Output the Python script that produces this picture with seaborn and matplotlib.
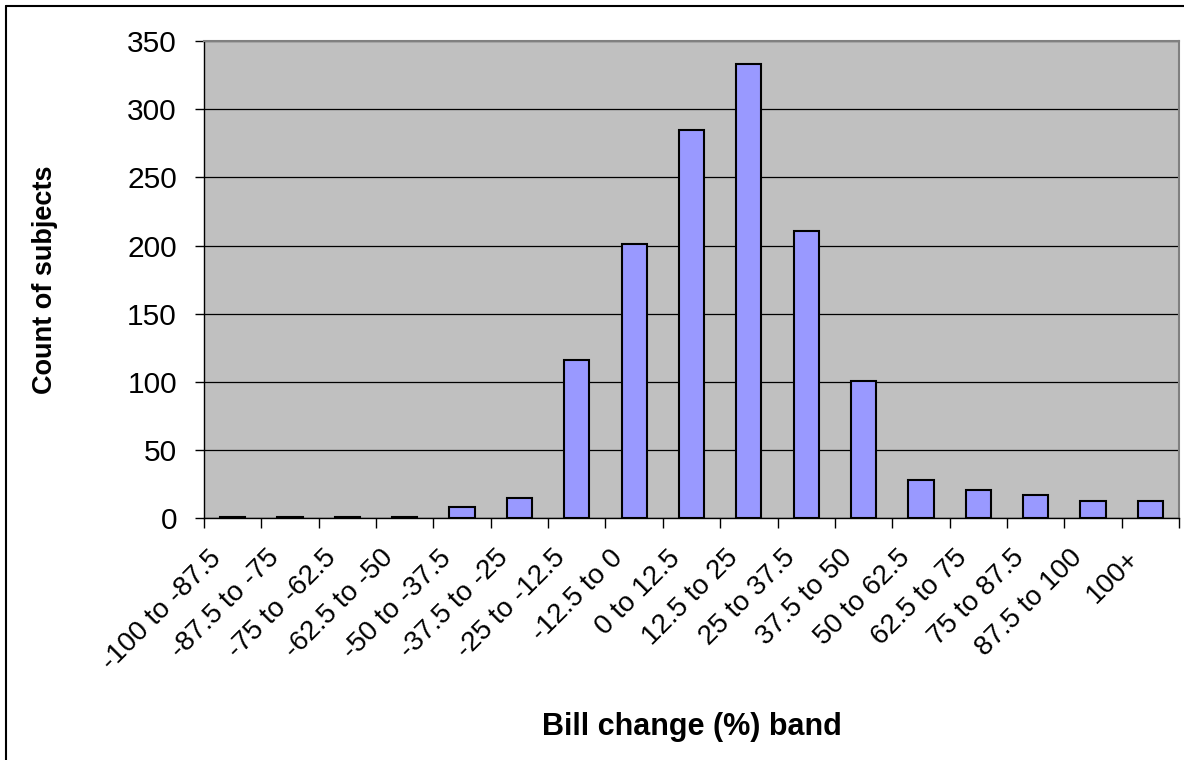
import matplotlib
matplotlib.use("Agg")
import matplotlib.pyplot as plt
import seaborn as sns
import pandas as pd
from matplotlib.lines import Line2D
from matplotlib.ticker import FixedLocator
from matplotlib.transforms import ScaledTranslation

bands = ["-100 to -87.5", "-87.5 to -75", "-75 to -62.5", "-62.5 to -50",
         "-50 to -37.5", "-37.5 to -25", "-25 to -12.5", "-12.5 to 0",
         "0 to 12.5", "12.5 to 25", "25 to 37.5", "37.5 to 50",
         "50 to 62.5", "62.5 to 75", "75 to 87.5", "87.5 to 100", "100+"]
counts = [1, 1, 1, 1, 8, 15, 116, 201, 285, 333, 211, 101, 28, 21, 17, 13, 13]
y_ticks = [0, 50, 100, 150, 200, 250, 300, 350]

sns.set_style("white")
plt.rcParams["font.family"] = ["Liberation Sans", "DejaVu Sans"]
plt.rcParams["text.color"] = "black"
plt.rcParams["axes.labelcolor"] = "black"
plt.rcParams["xtick.color"] = "black"
plt.rcParams["ytick.color"] = "black"

df = pd.DataFrame({"band": bands, "count": counts})

fig = plt.figure(figsize=(11.84, 7.60), dpi=100)
ax = fig.add_axes([204 / 1184, 1 - 518.3 / 760, 975 / 1184, (518.3 - 41) / 760])
ax.set_facecolor("#C0C0C0")

sns.barplot(data=df, x="band", y="count", color="#9999FF", saturation=1,
            width=0.44, edgecolor="black", linewidth=1.5, ax=ax, zorder=3)

ax.set_xlim(-0.5, len(bands) - 0.5)
ax.set_ylim(0, 350)
ax.set_yticks(y_ticks)
ax.yaxis.grid(True, color="black", linewidth=0.9)
ax.set_axisbelow(True)

for s in ["left", "bottom"]:
    ax.spines[s].set_color("black")
    ax.spines[s].set_linewidth(1.0)
for s in ["top", "right"]:
    ax.spines[s].set_color("#808080")
    ax.spines[s].set_linewidth(1.5)

ax.xaxis.set_minor_locator(FixedLocator([i - 0.5 for i in range(len(bands) + 1)]))
ax.tick_params(axis="x", which="major", length=0, pad=10, labelsize=20,
               labelcolor="black")
ax.tick_params(axis="x", which="minor", length=7, width=1, color="black",
               direction="out", bottom=True)
ax.tick_params(axis="y", which="major", length=6.5, width=1, color="black",
               direction="out", left=True, labelsize=21.5, pad=13,
               labelcolor="black")
ax.set_xticks(range(len(bands)))
ax.set_xticklabels(bands, rotation=45, ha="right", va="center",
                   rotation_mode="anchor")
offset = ScaledTranslation(-15 / 100, -22 / 100, fig.dpi_scale_trans)
for lab in ax.get_xticklabels():
    lab.set_transform(lab.get_transform() + offset)

ax.set_xlabel("Bill change (%) band", fontsize=22, fontweight="bold")
ax.set_ylabel("Count of subjects", fontsize=19.5, fontweight="bold")
ax.xaxis.set_label_coords(0.5, -0.405)
ax.yaxis.set_label_coords(-0.15, 0.5)

fig.add_artist(Line2D([6 / 1184, 1.0], [1 - 6 / 760, 1 - 6 / 760],
                      transform=fig.transFigure, color="black", linewidth=1.5))
fig.add_artist(Line2D([6 / 1184, 6 / 1184], [0.0, 1 - 6 / 760],
                      transform=fig.transFigure, color="black", linewidth=1.5))

fig.savefig("out.png", dpi=100)
